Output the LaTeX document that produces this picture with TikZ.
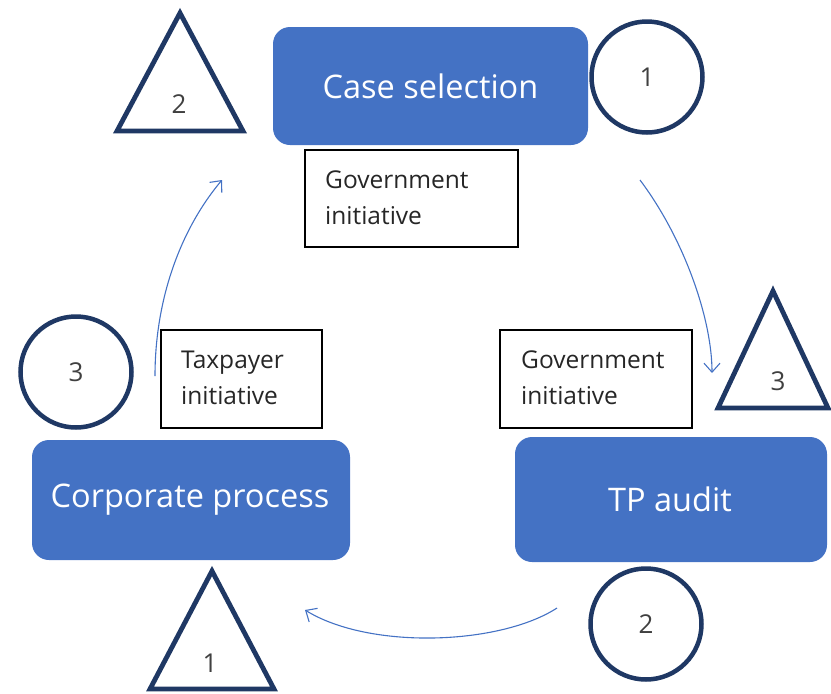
\documentclass[tikz,border=0pt]{standalone}
\usepackage{fontspec}
\setmainfont{Open Sans}
\usetikzlibrary{arrows.meta,shapes.geometric}
\definecolor{boxblue}{HTML}{4472C4}
\definecolor{navy}{HTML}{1F3864}
\definecolor{numgray}{HTML}{404040}
\begin{document}
\begin{tikzpicture}[x=1pt,y=-1pt,
  stagebg/.style={fill=boxblue,rounded corners=17pt},
  stagetxt/.style={text=white,font=\fontsize{32.5}{38}\selectfont,inner sep=0pt},
  lblbox/.style={draw=black,line width=1.3pt},
  lbltxt/.style={anchor=west,align=left,text=black!85,font=\fontsize{24.5}{36}\selectfont,inner sep=0pt},
  ring/.style={draw=navy,line width=4.5pt,circle,minimum size=111pt,inner sep=0pt,text=numgray,font=\fontsize{26}{30}\selectfont},
  tri/.style={draw=navy,line width=4.8pt,line join=miter},
  flow/.style={draw=boxblue,line width=1.1pt,-{Straight Barb[length=9pt,width=16pt,line width=1.1pt]}},
  numtxt/.style={text=numgray,font=\fontsize{26}{30}\selectfont}
]
\useasboundingbox (0,0) rectangle (831,694);

% stage boxes
\path[stagebg] (273,27) rectangle (588,145);
\node[stagetxt] (cs) at (430.5,86) {Case selection};
\path[stagebg] (515,437) rectangle (827,562);
\node[stagetxt] (tp) at (670,499) {TP audit};
\path[stagebg] (32,440) rectangle (350,560);
\node[stagetxt] (cp) at (190,500) {Corporate process};

% label boxes
\draw[lblbox] (305,150) rectangle (518,247);
\node[lbltxt] (g1) at (325,198) {Government\\initiative};
\draw[lblbox] (500,330) rectangle (692,428);
\node[lbltxt] (g2) at (521,378) {Government\\initiative};
\draw[lblbox] (161,330) rectangle (322,428);
\node[lbltxt] (tx) at (181,378) {Taxpayer\\initiative};

% circles
\node[ring] (c1) at (647,77) {1};
\node[ring] (c2) at (646,624) {2};
\node[ring] (c3) at (76,372) {3};

% triangles
\draw[tri] (180,13) -- (243,131) -- (117,131) -- cycle;
\node[numtxt] (t2) at (179,104) {2};
\draw[tri] (773,291) -- (828,408) -- (718,408) -- cycle;
\node[numtxt] (t3) at (778,381) {3};
\draw[tri] (212,571) -- (274,689) -- (150,689) -- cycle;
\node[numtxt] (t1) at (210,663) {1};

% arrows
\coordinate (a1s) at (640,180);
\coordinate (a1e) at (712,373);
\coordinate (a2s) at (557,608);
\coordinate (a2e) at (305,610);
\coordinate (a3s) at (155,376);
\coordinate (a3e) at (222,180);
\draw[flow] (a1s) .. controls (685,240) and (712,320) .. (a1e);
\draw[flow] (a2s) .. controls (500,645) and (370,650) .. (a2e);
\draw[flow] (a3s) .. controls (155,300) and (180,230) .. (a3e);
\end{tikzpicture}
\end{document}
